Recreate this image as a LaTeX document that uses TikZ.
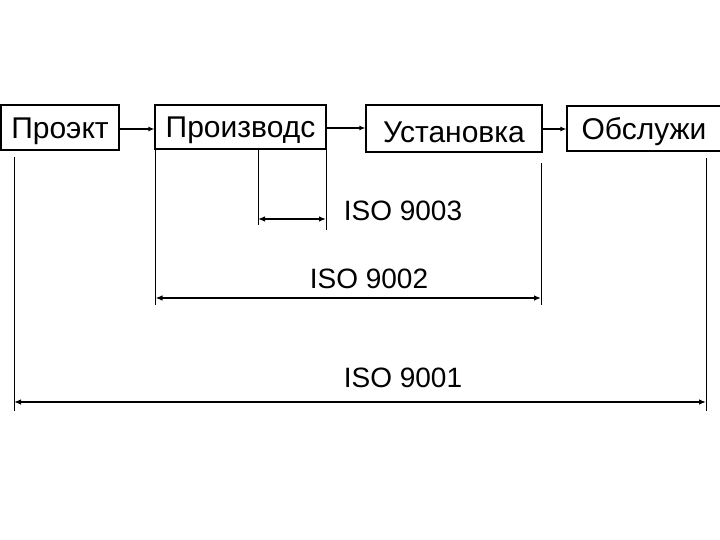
\documentclass[tikz,border=0pt]{standalone}
\usepackage{fontspec}
\setmainfont{Liberation Sans}
\usetikzlibrary{arrows.meta}
\begin{document}
\begin{tikzpicture}[x=1pt,y=-1pt,
  stage/.style={draw, line width=1.1pt, inner sep=0pt, text height=21.5pt, text depth=0pt, font=\fontsize{30}{34}\selectfont},
  flow/.style={line width=1.2pt, -{Latex[length=6pt,width=5pt]}},
  dim/.style={line width=1.3pt, {Latex[length=7pt,width=5.5pt]}-{Latex[length=7pt,width=5.5pt]}},
  ext/.style={line width=1pt},
  lbl/.style={font=\fontsize{28}{32}\selectfont, inner sep=0pt}]
\useasboundingbox (0,0) rectangle (720,540);
\fill[white] (0,0) rectangle (720,540);
% stage boxes
\node[stage, minimum width=118pt, minimum height=45pt] (p) at (60,127.5) {Проэкт};
\node[stage, minimum width=171pt, minimum height=44pt] (pr) at (240.5,127) {Производс};
\node[stage, minimum width=176pt, minimum height=47pt, text height=29pt] (u) at (454,128.5) {Установка};
\node[stage, minimum width=154pt, minimum height=45pt] (o) at (644,128.5) {Обслужи};
% flow arrows
\draw[flow] (p.east |- 0,129) -- (pr.west |- 0,129);
\draw[flow] (pr.east |- 0,128) -- (u.west |- 0,128);
\draw[flow] (u.east |- 0,129) -- (o.west |- 0,129);
% extension lines
\coordinate (a1) at (14,157);   \coordinate (a2) at (14,411);
\coordinate (b1) at (155.5,149); \coordinate (b2) at (155.5,305);
\coordinate (c1) at (258,149);   \coordinate (c2) at (258,225);
\coordinate (d1) at (326,149);   \coordinate (d2) at (326,230);
\coordinate (e1) at (541,163);   \coordinate (e2) at (541,305);
\coordinate (f1) at (706,158);   \coordinate (f2) at (706,411);
\draw[ext] (a1) -- (a2);
\draw[ext] (b1) -- (b2);
\draw[ext] (c1) -- (c2);
\draw[ext] (d1) -- (d2);
\draw[ext] (e1) -- (e2);
\draw[ext] (f1) -- (f2);
% dimension arrows
\coordinate (g1) at (258,219); \coordinate (g2) at (326,219);
\coordinate (h1) at (155.5,298); \coordinate (h2) at (541,298);
\coordinate (k1) at (14,402); \coordinate (k2) at (706,402);
\draw[dim] (g1) -- (g2);
\draw[dim] (h1) -- (h2);
\draw[dim] (k1) -- (k2);
% labels
\node[lbl] (l3) at (403,211) {ISO 9003};
\node[lbl] (l2) at (369,279) {ISO 9002};
\node[lbl] (l1) at (403,378) {ISO 9001};
\end{tikzpicture}
\end{document}
